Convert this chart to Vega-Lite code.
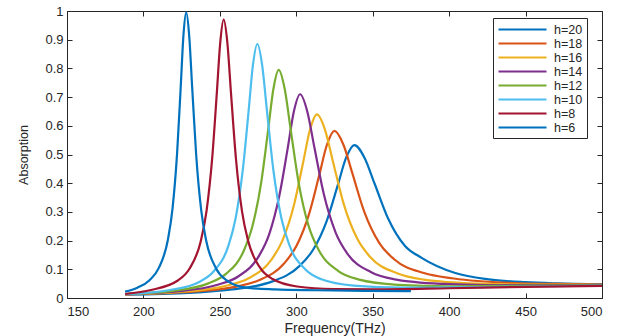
{
  "$schema": "https://vega.github.io/schema/vega-lite/v6.json",
  "autosize": {"type": "none"},
  "width": 535,
  "height": 287,
  "padding": {"left": 67, "top": 11, "right": 22, "bottom": 38},
  "background": "white",
  "view": {"stroke": "#262626", "strokeWidth": 1},
  "config": {
    "font": "Liberation Sans",
    "axis": {"domainColor": "#262626", "tickColor": "#262626", "labelColor": "#262626", "titleColor": "#262626", "grid": false, "labelFont": "Liberation Sans", "titleFont": "Liberation Sans", "titleFontWeight": "normal"}
  },
  "data": {"values": [
    {"h":"h=20","f":188,"a":0.012},{"h":"h=20","f":230,"a":0.018},{"h":"h=20","f":248,"a":0.025},{"h":"h=20","f":266,"a":0.035},{"h":"h=20","f":284,"a":0.057},{"h":"h=20","f":302,"a":0.111},{"h":"h=20","f":311,"a":0.168},{"h":"h=20","f":320,"a":0.270},{"h":"h=20","f":327.2,"a":0.394},{"h":"h=20","f":332.6,"a":0.489},{"h":"h=20","f":338,"a":0.533},{"h":"h=20","f":344.6,"a":0.489},{"h":"h=20","f":351.2,"a":0.399},{"h":"h=20","f":360,"a":0.278},{"h":"h=20","f":371,"a":0.182},{"h":"h=20","f":382,"a":0.140},{"h":"h=20","f":404,"a":0.087},{"h":"h=20","f":426,"a":0.065},{"h":"h=20","f":450,"a":0.055},{"h":"h=20","f":470,"a":0.051},{"h":"h=20","f":500,"a":0.048},
    {"h":"h=18","f":188,"a":0.012},{"h":"h=18","f":226,"a":0.020},{"h":"h=18","f":259,"a":0.038},{"h":"h=18","f":275.5,"a":0.062},{"h":"h=18","f":292,"a":0.120},{"h":"h=18","f":300.25,"a":0.183},{"h":"h=18","f":308.5,"a":0.295},{"h":"h=18","f":315.1,"a":0.430},{"h":"h=18","f":320.05,"a":0.534},{"h":"h=18","f":325,"a":0.582},{"h":"h=18","f":330.85,"a":0.534},{"h":"h=18","f":336.7,"a":0.434},{"h":"h=18","f":344.5,"a":0.300},{"h":"h=18","f":354.25,"a":0.192},{"h":"h=18","f":364,"a":0.135},{"h":"h=18","f":383.5,"a":0.087},{"h":"h=18","f":403,"a":0.068},{"h":"h=18","f":442,"a":0.052},{"h":"h=18","f":470,"a":0.049},{"h":"h=18","f":500,"a":0.047},
    {"h":"h=16","f":188,"a":0.013},{"h":"h=16","f":223.5,"a":0.021},{"h":"h=16","f":253.5,"a":0.042},{"h":"h=16","f":268.5,"a":0.068},{"h":"h=16","f":283.5,"a":0.132},{"h":"h=16","f":291,"a":0.201},{"h":"h=16","f":298.5,"a":0.324},{"h":"h=16","f":304.5,"a":0.473},{"h":"h=16","f":309,"a":0.587},{"h":"h=16","f":313.5,"a":0.640},{"h":"h=16","f":318.75,"a":0.587},{"h":"h=16","f":324,"a":0.475},{"h":"h=16","f":331,"a":0.328},{"h":"h=16","f":339.75,"a":0.208},{"h":"h=16","f":348.5,"a":0.142},{"h":"h=16","f":366,"a":0.086},{"h":"h=16","f":383.5,"a":0.064},{"h":"h=16","f":418.5,"a":0.050},{"h":"h=16","f":450,"a":0.047},{"h":"h=16","f":500,"a":0.046},
    {"h":"h=14","f":188,"a":0.014},{"h":"h=14","f":221.5,"a":0.023},{"h":"h=14","f":248.5,"a":0.046},{"h":"h=14","f":262,"a":0.075},{"h":"h=14","f":275.5,"a":0.146},{"h":"h=14","f":282.25,"a":0.222},{"h":"h=14","f":289,"a":0.359},{"h":"h=14","f":294.4,"a":0.522},{"h":"h=14","f":298.45,"a":0.651},{"h":"h=14","f":302.5,"a":0.710},{"h":"h=14","f":307.15,"a":0.651},{"h":"h=14","f":311.8,"a":0.526},{"h":"h=14","f":318,"a":0.362},{"h":"h=14","f":325.75,"a":0.228},{"h":"h=14","f":333.5,"a":0.154},{"h":"h=14","f":349,"a":0.090},{"h":"h=14","f":364.5,"a":0.065},{"h":"h=14","f":395.5,"a":0.049},{"h":"h=14","f":425,"a":0.045},{"h":"h=14","f":450,"a":0.045},{"h":"h=14","f":500,"a":0.045},
    {"h":"h=12","f":188,"a":0.014},{"h":"h=12","f":219.5,"a":0.025},{"h":"h=12","f":242.5,"a":0.051},{"h":"h=12","f":254,"a":0.084},{"h":"h=12","f":265.5,"a":0.163},{"h":"h=12","f":271.25,"a":0.249},{"h":"h=12","f":277,"a":0.401},{"h":"h=12","f":281.6,"a":0.586},{"h":"h=12","f":285.05,"a":0.729},{"h":"h=12","f":288.5,"a":0.795},{"h":"h=12","f":292.4,"a":0.729},{"h":"h=12","f":296.3,"a":0.588},{"h":"h=12","f":301.5,"a":0.403},{"h":"h=12","f":308,"a":0.252},{"h":"h=12","f":314.5,"a":0.169},{"h":"h=12","f":327.5,"a":0.094},{"h":"h=12","f":340.5,"a":0.065},{"h":"h=12","f":366.5,"a":0.046},{"h":"h=12","f":400,"a":0.041},{"h":"h=12","f":450,"a":0.043},{"h":"h=12","f":500,"a":0.044},
    {"h":"h=10","f":188,"a":0.013},{"h":"h=10","f":217.5,"a":0.028},{"h":"h=10","f":236.5,"a":0.056},{"h":"h=10","f":246,"a":0.093},{"h":"h=10","f":255.5,"a":0.181},{"h":"h=10","f":260.25,"a":0.276},{"h":"h=10","f":265,"a":0.446},{"h":"h=10","f":268.8,"a":0.651},{"h":"h=10","f":271.65,"a":0.812},{"h":"h=10","f":274.5,"a":0.885},{"h":"h=10","f":277.65,"a":0.812},{"h":"h=10","f":280.8,"a":0.653},{"h":"h=10","f":285,"a":0.446},{"h":"h=10","f":290.25,"a":0.278},{"h":"h=10","f":295.5,"a":0.184},{"h":"h=10","f":306,"a":0.099},{"h":"h=10","f":316.5,"a":0.065},{"h":"h=10","f":337.5,"a":0.043},{"h":"h=10","f":369,"a":0.036},{"h":"h=10","f":400,"a":0.037},{"h":"h=10","f":450,"a":0.040},{"h":"h=10","f":500,"a":0.043},
    {"h":"h=8","f":188,"a":0.014},{"h":"h=8","f":205,"a":0.028},{"h":"h=8","f":222.5,"a":0.061},{"h":"h=8","f":230,"a":0.101},{"h":"h=8","f":237.5,"a":0.198},{"h":"h=8","f":241.25,"a":0.302},{"h":"h=8","f":245,"a":0.488},{"h":"h=8","f":248,"a":0.713},{"h":"h=8","f":250.25,"a":0.890},{"h":"h=8","f":252.5,"a":0.970},{"h":"h=8","f":254.9,"a":0.890},{"h":"h=8","f":257.3,"a":0.713},{"h":"h=8","f":260.5,"a":0.487},{"h":"h=8","f":264.5,"a":0.302},{"h":"h=8","f":268.5,"a":0.199},{"h":"h=8","f":276.5,"a":0.104},{"h":"h=8","f":284.5,"a":0.066},{"h":"h=8","f":300.5,"a":0.040},{"h":"h=8","f":324.5,"a":0.031},{"h":"h=8","f":352.5,"a":0.030},{"h":"h=8","f":400,"a":0.034},{"h":"h=8","f":450,"a":0.039},{"h":"h=8","f":500,"a":0.042},
    {"h":"h=6","f":188,"a":0.022},{"h":"h=6","f":196,"a":0.036},{"h":"h=6","f":204,"a":0.062},{"h":"h=6","f":210,"a":0.104},{"h":"h=6","f":216,"a":0.203},{"h":"h=6","f":219,"a":0.310},{"h":"h=6","f":222,"a":0.502},{"h":"h=6","f":224.4,"a":0.736},{"h":"h=6","f":226.2,"a":0.917},{"h":"h=6","f":228,"a":0.995},{"h":"h=6","f":229.95,"a":0.913},{"h":"h=6","f":231.9,"a":0.733},{"h":"h=6","f":234.5,"a":0.499},{"h":"h=6","f":237.75,"a":0.308},{"h":"h=6","f":241,"a":0.201},{"h":"h=6","f":247.5,"a":0.103},{"h":"h=6","f":254,"a":0.063},{"h":"h=6","f":267,"a":0.036},{"h":"h=6","f":286,"a":0.030},{"h":"h=6","f":313,"a":0.027},{"h":"h=6","f":345,"a":0.025},{"h":"h=6","f":375,"a":0.024}
  ]},
  "layer": [
    {
      "mark": {"type": "point", "opacity": 0},
      "encoding": {
        "x": {"field": "f", "type": "quantitative", "scale": {"domain": [150, 500], "nice": false, "zero": false},
              "axis": {"orient": "top", "title": null, "labels": false, "domain": false, "values": [150,200,250,300,350,400,450,500], "tickSize": -5}},
        "y": {"field": "a", "type": "quantitative", "scale": {"domain": [0, 1], "nice": false},
              "axis": {"orient": "right", "title": null, "labels": false, "domain": false, "values": [0,0.1,0.2,0.3,0.4,0.5,0.6,0.7,0.8,0.9,1], "tickSize": -5}}
      }
    },
    {
      "mark": {"type": "line", "interpolate": "monotone", "strokeWidth": 2.2},
      "encoding": {
        "x": {"field": "f", "type": "quantitative", "scale": {"domain": [150, 500], "nice": false, "zero": false},
              "axis": {"orient": "bottom", "title": "Frequency(THz)", "values": [150,200,250,300,350,400,450,500], "tickSize": -5, "labelPadding": 12, "labelFontSize": 13, "titleFontSize": 14, "titlePadding": 3}},
        "y": {"field": "a", "type": "quantitative", "scale": {"domain": [0, 1], "nice": false},
              "axis": {"orient": "left", "title": "Absorption", "values": [0,0.1,0.2,0.3,0.4,0.5,0.6,0.7,0.8,0.9,1], "format": "~g", "tickSize": -5, "labelPadding": 9, "labelFontSize": 13, "titleFontSize": 12.5, "titlePadding": 14}},
        "color": {"field": "h", "type": "nominal", "sort": ["h=20","h=18","h=16","h=14","h=12","h=10","h=8","h=6"],
                  "scale": {"domain": ["h=20","h=18","h=16","h=14","h=12","h=10","h=8","h=6"], "range": ["#0072BD","#D95319","#EDB120","#7E2F8E","#77AC30","#4DBEEE","#A2142F","#0072BD"]},
                  "legend": {"title": null, "orient": "none", "legendX": 426, "legendY": 7, "symbolType": "M-1,0H7", "symbolSize": 144, "symbolStrokeWidth": 2.2, "labelFontSize": 12.5, "labelColor": "#262626", "rowPadding": -2, "padding": 4, "fillColor": "white", "strokeColor": "#262626", "labelOffset": 42}}
      }
    }
  ],
  "resolve": {"scale": {"x": "independent", "y": "independent"}}
}
